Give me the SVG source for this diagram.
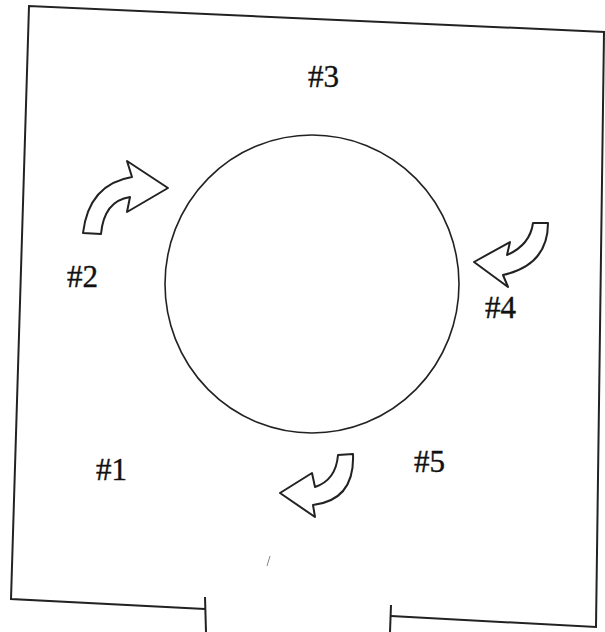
<svg xmlns="http://www.w3.org/2000/svg" width="605" height="632" viewBox="0 0 605 632">
<style>
.wall{fill:none;stroke:#222;stroke-width:2;stroke-linejoin:miter}
.arrow{fill:#fff;stroke:#222;stroke-width:2;stroke-linejoin:round}
.lbl{font-family:"Liberation Serif","DejaVu Serif",serif;font-size:31px;fill:#111;stroke:#111;stroke-width:0.4}
</style>
<rect width="605" height="632" fill="#fff"/>
<g id="room">
<path class="wall" d="M205,609 L11,599 L29,6 L605,32"/>
<path class="wall" d="M604,32 L596,627 L391,616"/>
<path class="wall" d="M205,597 L206,632"/>
<path class="wall" d="M391,605 L390,632"/>
<path d="M270,556 L267,566" stroke="#888" stroke-width="1" fill="none"/>
</g>
<g id="table">
<ellipse cx="312" cy="284" rx="147" ry="149" fill="none" stroke="#222" stroke-width="1.6"/>
</g>
<g id="connectors">
<path id="arrow2" class="arrow" d="M168,188 L127,161 L132,177 Q89,184 83,233 L101,234 Q104,201 130,197 L127,212 Z"/>
<path id="arrow4" class="arrow" d="M474,262 L510,242 L507,255 Q530,245 533,223 L548,223 Q548,265 503,275 L508,287 Z"/>
<path id="arrow5" class="arrow" d="M280,493 L312,473 L315,487 Q336,480 338,455 L353,454 Q355,500 313,505 L315,517 Z"/>
</g>
<g id="n3"><text class="lbl" x="308" y="87" font-size="28">#3</text></g>
<g id="n2"><text class="lbl" x="67" y="287" font-size="35">#2</text></g>
<g id="n4"><text class="lbl" x="485" y="318">#4</text></g>
<g id="n1"><text class="lbl" x="96" y="480" font-size="32">#1</text></g>
<g id="n5"><text class="lbl" x="414" y="472" font-size="32">#5</text></g>
</svg>
